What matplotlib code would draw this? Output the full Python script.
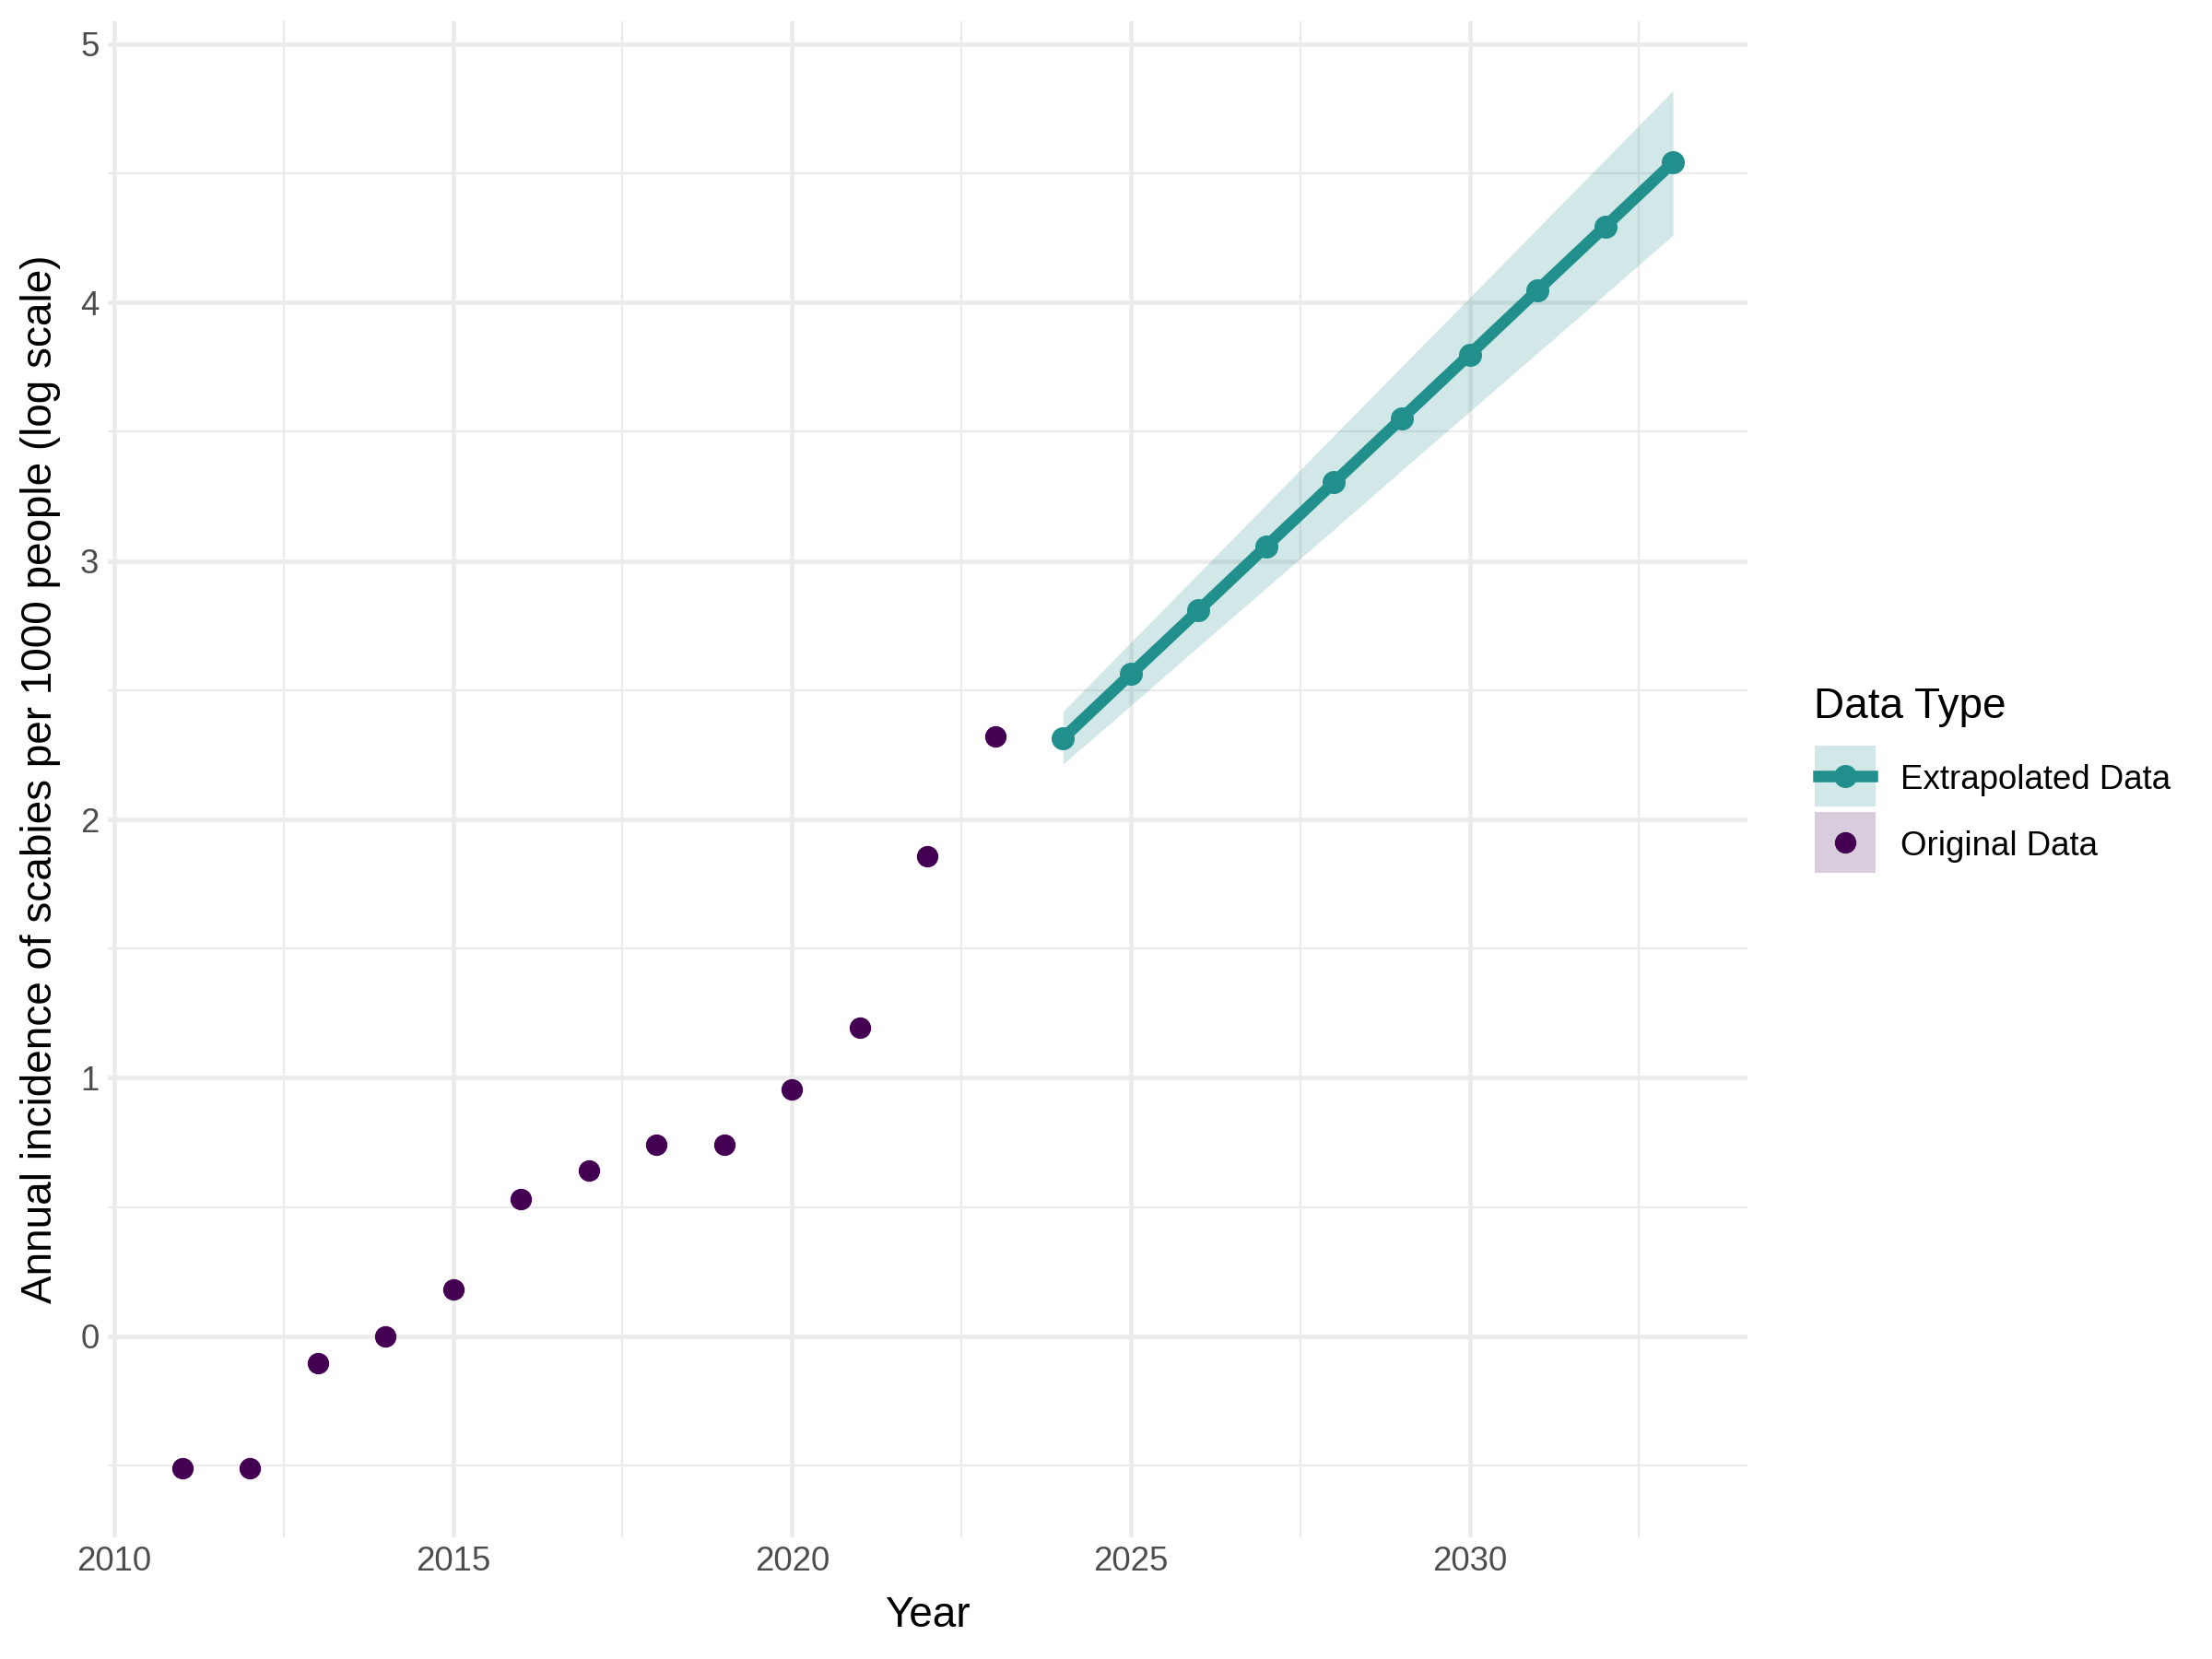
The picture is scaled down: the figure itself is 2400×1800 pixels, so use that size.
import matplotlib.pyplot as plt
from matplotlib.patches import Rectangle
from matplotlib.lines import Line2D

plt.rcParams['font.family'] = ['Liberation Sans', 'DejaVu Sans']

# original data (log of annual incidence per 1000)
orig_years = [2011, 2012, 2013, 2014, 2015, 2016, 2017, 2018, 2019, 2020, 2021, 2022, 2023]
orig_vals = [-0.511, -0.511, -0.105, 0.0, 0.182, 0.531, 0.642, 0.742, 0.742, 0.956, 1.194, 1.856, 2.322]

# extrapolated data with band
ext_years = [2024, 2025, 2026, 2027, 2028, 2029, 2030, 2031, 2032, 2033]
ext_vals = [2.314, 2.562, 2.809, 3.057, 3.304, 3.552, 3.799, 4.047, 4.294, 4.542]
ext_upper = [2.418, 2.685, 2.952, 3.219, 3.486, 3.753, 4.019, 4.286, 4.553, 4.820]
ext_lower = [2.214, 2.441, 2.669, 2.896, 3.123, 3.351, 3.578, 3.805, 4.032, 4.260]

x_ticks = [2010, 2015, 2020, 2025, 2030]
y_ticks = [0, 1, 2, 3, 4, 5]

teal = '#21908C'
purple = '#440154'
grid_col = '#EBEBEB'

fig = plt.figure(figsize=(8, 6), dpi=300)
ax = fig.add_axes([0.0486, 0.0733, 0.790 - 0.0486, 0.987 - 0.0733])

ax.fill_between(ext_years, ext_lower, ext_upper, color=teal, alpha=0.2, linewidth=0, zorder=2)
ax.plot(ext_years, ext_vals, color=teal, linewidth=3.0, marker='o', markersize=5, zorder=3)
ax.plot(orig_years, orig_vals, linestyle='none', color=purple, marker='o', markersize=4.6, zorder=3)

ax.set_xlim(2009.9, 2034.1)
ax.set_ylim(-0.778, 5.087)
ax.set_xticks(x_ticks)
ax.set_yticks(y_ticks)
ax.set_xticks([2012.5, 2017.5, 2022.5, 2027.5, 2032.5], minor=True)
ax.set_yticks([-0.5, 0.5, 1.5, 2.5, 3.5, 4.5], minor=True)
ax.grid(True, which='major', color=grid_col, linewidth=1.1, zorder=0)
ax.grid(True, which='minor', color=grid_col, linewidth=0.55, zorder=0)
ax.set_axisbelow(True)
for s in ax.spines.values():
    s.set_visible(False)
ax.tick_params(which='both', length=0, labelsize=8.8, labelcolor='#4D4D4D', pad=2.2)

ax.set_xlabel('Year', fontsize=11, labelpad=4.5)
ax.set_ylabel('Annual incidence of scabies per 1000 people (log scale)', fontsize=11, labelpad=5)

# legend drawn by hand, ggplot style
W, H = 2400.0, 1800.0
fig.text(1968 / W, 1 - 779 / H, 'Data Type', fontsize=11, ha='left', va='baseline')
keys = [(809, 875, teal, True, 'Extrapolated Data'), (881, 947, purple, False, 'Original Data')]
for top, bot, col, with_line, lab in keys:
    fig.add_artist(Rectangle((1969 / W, 1 - bot / H), 66 / W, (bot - top) / H,
                             transform=fig.transFigure, facecolor=col, alpha=0.2, linewidth=0))
    yc = 1 - (top + bot) / 2 / H
    if with_line:
        fig.add_artist(Line2D([1973 / W, 2031 / W], [yc, yc], transform=fig.transFigure,
                              color=col, linewidth=3.0))
    fig.add_artist(Line2D([2002 / W], [yc], transform=fig.transFigure, color=col,
                          marker='o', markersize=5 if with_line else 4.6, linestyle='none'))
    fig.text(2062 / W, yc, lab, fontsize=8.8, ha='left', va='center_baseline')

fig.savefig('out.png', dpi=300)
